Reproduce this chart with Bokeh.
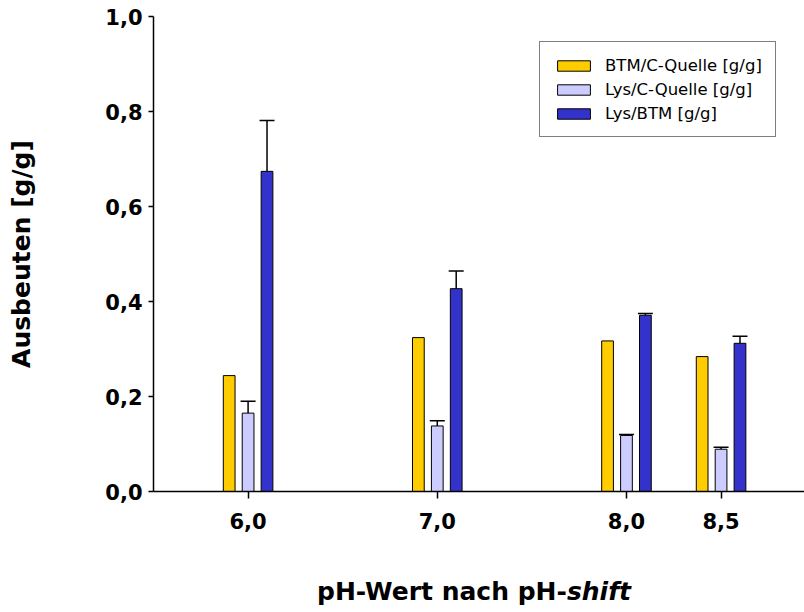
from bokeh.plotting import figure
from bokeh.models import (ColumnDataSource, Range1d, FixedTicker, CustomJSTickFormatter,
                          Whisker, TeeHead, Div)
from bokeh.layouts import column
from bokeh.embed import file_html
from bokeh.resources import INLINE

# pH values after the shift
ph = [6.0, 7.0, 8.0, 8.5]

# yields [g/g]
btm_c = [0.244, 0.324, 0.317, 0.284]          # BTM/C-Quelle
lys_c = [0.165, 0.138, 0.118, 0.089]          # Lys/C-Quelle
lys_c_upper = [0.190, 0.149, 0.120, 0.093]    # upper end of error bar
lys_btm = [0.674, 0.427, 0.371, 0.312]        # Lys/BTM
lys_btm_upper = [0.781, 0.464, 0.375, 0.327]  # upper end of error bar

y_ticks = [0.0, 0.2, 0.4, 0.6, 0.8, 1.0]

FONT = "DejaVu Sans"
OFFSET = 0.1
BAR_W = 0.062

p = figure(width=804, height=570, output_backend="svg", toolbar_location=None,
           x_range=Range1d(5.5, 8.941), y_range=Range1d(0.0, 1.0),
           min_border_left=153, min_border_right=0, min_border_top=16,
           min_border_bottom=79)
p.outline_line_color = None
p.xgrid.visible = False
p.ygrid.visible = False
p.background_fill_color = "white"
p.border_fill_color = "white"

series = [
    ("BTM/C-Quelle [g/g]", btm_c, None, "#FFCC00", -OFFSET),
    ("Lys/C-Quelle [g/g]", lys_c, lys_c_upper, "#CCCCFF", 0.0),
    ("Lys/BTM [g/g]", lys_btm, lys_btm_upper, "#3333CC", OFFSET),
]

for name, vals, upper, color, off in series:
    data = dict(x=[v + off for v in ph], top=vals)
    if upper is not None:
        data["upper"] = upper
    src = ColumnDataSource(data)
    p.vbar(x="x", top="top", width=BAR_W, source=src, fill_color=color,
           line_color="black", line_width=1, legend_label=name)
    if upper is not None:
        w = Whisker(source=src, base="x", lower="top", upper="upper",
                    line_color="black", line_width=1.5,
                    upper_head=TeeHead(size=15, line_color="black", line_width=1.5),
                    lower_head=None)
        p.add_layout(w)

fmt = CustomJSTickFormatter(code="return tick.toFixed(1).replace('.', ',');")

for ax in (p.xaxis, p.yaxis):
    ax.axis_line_width = 1.5
    ax.axis_line_color = "black"
    ax.major_tick_line_width = 1.5
    ax.major_tick_line_color = "black"
    ax.minor_tick_line_color = None
    ax.major_tick_in = 0
    ax.formatter = fmt
    ax.major_label_text_font = FONT
    ax.major_label_text_font_style = "bold"
    ax.major_label_text_font_size = "21px"
    ax.major_label_text_color = "black"

p.xaxis.ticker = FixedTicker(ticks=ph)
p.xaxis.major_tick_out = 7
p.xaxis.major_label_standoff = 14
p.yaxis.ticker = FixedTicker(ticks=y_ticks)
p.yaxis.major_tick_out = 5
p.yaxis.major_label_standoff = 6

p.yaxis.axis_label = "Ausbeuten [g/g]"
p.yaxis.axis_label_text_font = FONT
p.yaxis.axis_label_text_font_style = "bold"
p.yaxis.axis_label_text_font_size = "25px"
p.yaxis.axis_label_text_color = "black"
p.yaxis.axis_label_standoff = 66

leg = p.legend[0]
leg.location = (386, 354)
leg.border_line_color = "black"
leg.border_line_width = 1
leg.background_fill_color = "white"
leg.background_fill_alpha = 1
leg.label_text_font = FONT
leg.label_text_font_size = "16.5px"
leg.label_text_color = "black"
leg.glyph_width = 41
leg.glyph_height = 13
leg.label_height = 20
leg.spacing = 4
leg.padding = 13
leg.label_standoff = 11
leg.margin = 0

# x axis title with the italic "shift"
xtitle = Div(text="pH-Wert nach pH-<i>shift</i>", width=804, height=42, margin=0,
             styles={"font-family": FONT, "font-size": "25px", "font-weight": "bold",
                     "color": "black", "text-indent": "317px", "line-height": "44px",
                     "white-space": "nowrap", "background-color": "white"})

layout = column(p, xtitle, spacing=0)

open("out.html", "w").write(file_html(layout, INLINE))
